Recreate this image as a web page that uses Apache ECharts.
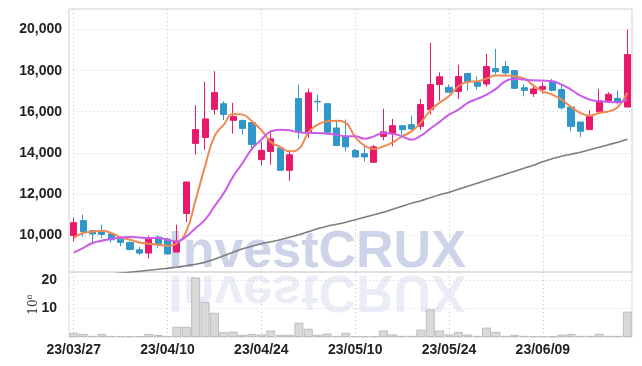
<!DOCTYPE html>
<html><head><meta charset="utf-8">
<script src="https://cdn.jsdelivr.net/npm/echarts@6/dist/echarts.min.js"></script>
<style>html,body{margin:0;padding:0;background:#fff}#c{width:642px;height:366px}</style>
</head><body><div id="c"></div>
<script>
const dates = ['23/03/27','23/03/28','23/03/29','23/03/30','23/03/31','23/04/03','23/04/04','23/04/05','23/04/06','23/04/07',
'23/04/10','23/04/11','23/04/12','23/04/13','23/04/14','23/04/17','23/04/18','23/04/19','23/04/20','23/04/21',
'23/04/24','23/04/25','23/04/26','23/04/27','23/04/28','23/05/02','23/05/03','23/05/04','23/05/08','23/05/09',
'23/05/10','23/05/11','23/05/12','23/05/15','23/05/16','23/05/17','23/05/18','23/05/19','23/05/22','23/05/23',
'23/05/24','23/05/25','23/05/26','23/05/30','23/05/31','23/06/01','23/06/02','23/06/05','23/06/07','23/06/08',
'23/06/09','23/06/12','23/06/13','23/06/14','23/06/15','23/06/16','23/06/19','23/06/20','23/06/21','23/06/22'];
// [open, close, low, high]
const ohlc = [
[9980,10600,9690,10830],[10700,10160,9930,10990],[10210,10050,9640,10230],[10150,10030,9850,10500],[10060,9770,9640,10130],
[9800,9640,9450,9850],[9640,9300,9250,9690],[9280,9120,9040,9420],[9120,9800,8850,9970],[9900,9590,9350,9980],
[9800,9080,9040,9850],[9170,9690,9170,10500],[11050,12580,10630,12580],[14460,15130,13910,16310],[14750,15650,14150,17470],
[16120,16930,15860,17970],[16390,15870,15600,16510],[15580,15760,14930,16430],[15570,15190,14880,15620],[15470,14410,14190,15530],
[13670,14120,13390,14530],[14070,14680,13420,15090],[14240,13150,13150,14270],[13150,13910,12640,14120],[16640,15000,14680,17320],
[15000,16920,14720,17130],[16510,16480,16020,16830],[16390,15000,15000,16430],[15210,14360,14360,15530],[14800,14290,14070,15620],
[14110,13800,13800,14190],[13960,13800,13580,14350],[13540,14290,13540,14380],[14800,15020,14610,16140],[14930,15320,14320,15650],
[15320,15130,14880,15320],[15370,15160,15130,15810],[15290,16350,15130,16620],[16100,17320,15860,19350],[17320,17700,16540,17920],
[17190,16950,16950,17320],[16990,17710,16620,18290],[17860,17470,17030,17860],[17430,17240,17080,17720],[17350,18200,17210,18820],
[18100,17950,17810,19060],[18200,17890,17810,18470],[18000,17140,17140,18000],[17170,17040,16750,17350],[16880,17110,16720,17310],
[17090,17220,16880,17430],[17480,17040,16990,17600],[17080,16190,16100,17320],[16230,15290,15050,16230],[15500,15050,14770,15500],
[15130,15780,15130,16070],[15990,16530,15990,17110],[16540,16850,16540,16950],[16650,16460,16350,17040],[16230,18780,16230,20000]];
const maShort = [9854,10097,10161,10209,10097,9883,9771,9640,9576,9527,9479,9610,10175,11719,13341,14802,15372,15893,15859,15532,
15103,14529,14286,14071,14203,14967,15372,15532,15566,15454,14773,14349,14188,14315,14510,14802,15045,15469,16053,16443,
16760,17237,17451,17480,17612,17758,17758,17724,17612,17271,16993,16833,16589,16234,15941,15810,15941,16019,16234,16915];
const maMid = [9153,9367,9610,9722,9820,9883,9903,9883,9854,9854,9771,9688,9932,10341,10745,11393,12045,12854,13506,14188,
14641,15045,15128,15094,14997,14967,14967,14933,14884,14802,14802,14690,14802,14967,14933,14802,14641,14836,15177,15508,
15859,16102,16428,16623,16833,17110,17480,17597,17563,17529,17515,17480,17320,17076,16784,16589,16506,16477,16458,16589];
const maLong = [7920,7965,8010,8055,8100,8145,8190,8237,8286,8334,8383,8432,8505,8578,8676,8821,8992,9162,9333,9455,
9576,9673,9771,9893,10015,10161,10307,10429,10526,10624,10745,10867,10989,11110,11256,11403,11549,11670,11817,11963,
12084,12230,12377,12523,12669,12815,12961,13107,13253,13399,13570,13716,13838,13935,14032,14154,14276,14398,14519,14665];
const volume = [1.5,1.1,0.4,1.1,0.4,0.3,0.3,0.3,1.1,0.7,0.4,3.6,3.6,20.9,12.3,8.5,1.7,1.9,0.8,1.1,
0.9,2.3,0.8,0.8,5.0,2.9,0.8,1.2,0.4,1.5,0.3,0.3,0.3,2.3,0.9,0.4,0.4,2.6,9.7,2.3,
0.9,1.8,0.9,0.4,3.3,1.8,0.4,0.8,0.4,0.3,0.3,0.2,0.8,1.1,0.4,0.4,1.1,0.4,0.4,8.9];
const priceTicks = [10000,12000,14000,16000,18000,20000];
const volTicks = [10,20];

const FONT = '"Liberation Sans Narrow","Liberation Sans",sans-serif';
const lblStyle = {color:'#222', fontFamily:FONT, fontWeight:'bold', fontSize:14};
const hGrid = {show:true, lineStyle:{color:'#c9cde0', type:[1,3], width:1}};
const vGrid = {show:true, interval:9, alignWithLabel:true, lineStyle:{color:'#c4c4cc', type:[1,3], width:1}};

const chart = echarts.init(document.getElementById('c'), null, {renderer:'canvas'});
chart.setOption({
  animation:false,
  grid:[
    {left:69, right:10, top:9, height:263, show:true, borderColor:'#cfcfcf', borderWidth:1},
    {left:69, right:10, top:272, height:65, show:true, borderColor:'#d8d8d8', borderWidth:1}
  ],
  xAxis:[
    {type:'category', gridIndex:0, data:dates, boundaryGap:true,
     axisLine:{show:false}, axisTick:{show:false}, axisLabel:{show:false}, splitLine:vGrid},
    {type:'category', gridIndex:1, data:dates, boundaryGap:true,
     axisLine:{show:false}, axisTick:{show:false},
     axisLabel:Object.assign({interval:9, margin:6}, lblStyle), splitLine:vGrid}
  ],
  yAxis:[
    {type:'value', gridIndex:0, min:8200, max:21000, scale:true,
     axisLine:{show:false}, axisTick:{show:false, customValues:priceTicks},
     axisLabel:Object.assign({customValues:priceTicks, margin:7,
       formatter:v=>v.toLocaleString('en-US')}, lblStyle),
     splitLine:hGrid},
    {type:'value', gridIndex:1, min:0, max:22.8,
     axisLine:{show:false}, axisTick:{show:false, customValues:volTicks},
     axisLabel:Object.assign({customValues:volTicks, margin:12}, lblStyle),
     splitLine:hGrid,
     name:'10{s|6}', nameLocation:'middle', nameRotate:90, nameGap:27, nameMoveOverlap:false,
     nameTextStyle:{color:'#333', fontFamily:'"DejaVu Serif",serif', fontSize:12,
       rich:{s:{fontSize:8, verticalAlign:'top', padding:[0,0,8,0], fontFamily:'"DejaVu Serif",serif', color:'#333'}}}}
  ],
  graphic:[
    {type:'text', z:1, x:317, y:253, silent:true,
     style:{text:'InvestCRUX', font:'bold 52px "Liberation Sans",sans-serif', fill:'#cdd4e9', align:'center', verticalAlign:'middle'}},
    {type:'text', z:1, x:317, y:272, scaleY:-1, silent:true,
     style:{text:'InvestCRUX', y:-18, font:'bold 52px "Liberation Sans",sans-serif',
       fill:'rgba(214,219,236,0.5)', align:'center', verticalAlign:'middle'}}
  ],
  series:[
    {type:'bar', xAxisIndex:1, yAxisIndex:1, data:volume, barCategoryGap:'4%',
     itemStyle:{color:'#d9d9d9', borderColor:'#bdbdbd', borderWidth:1}, z:3},
    {type:'line', xAxisIndex:0, yAxisIndex:0, data:maLong, smooth:true, showSymbol:false,
     lineStyle:{color:'#7d7d7d', width:1.6}, z:3},
    {type:'candlestick', xAxisIndex:0, yAxisIndex:0, data:ohlc, barWidth:'70%',
     itemStyle:{color:'#e8196c', color0:'#2f97c9', borderColor:'#e8196c', borderColor0:'#2f97c9', borderWidth:1}, z:4},
    {type:'line', xAxisIndex:0, yAxisIndex:0, data:maShort, smooth:true, showSymbol:false,
     lineStyle:{color:'#f08a52', width:2}, z:5},
    {type:'line', xAxisIndex:0, yAxisIndex:0, data:maMid, smooth:true, showSymbol:false,
     lineStyle:{color:'#cc5be8', width:2}, z:5}
  ]
});
</script></body></html>
